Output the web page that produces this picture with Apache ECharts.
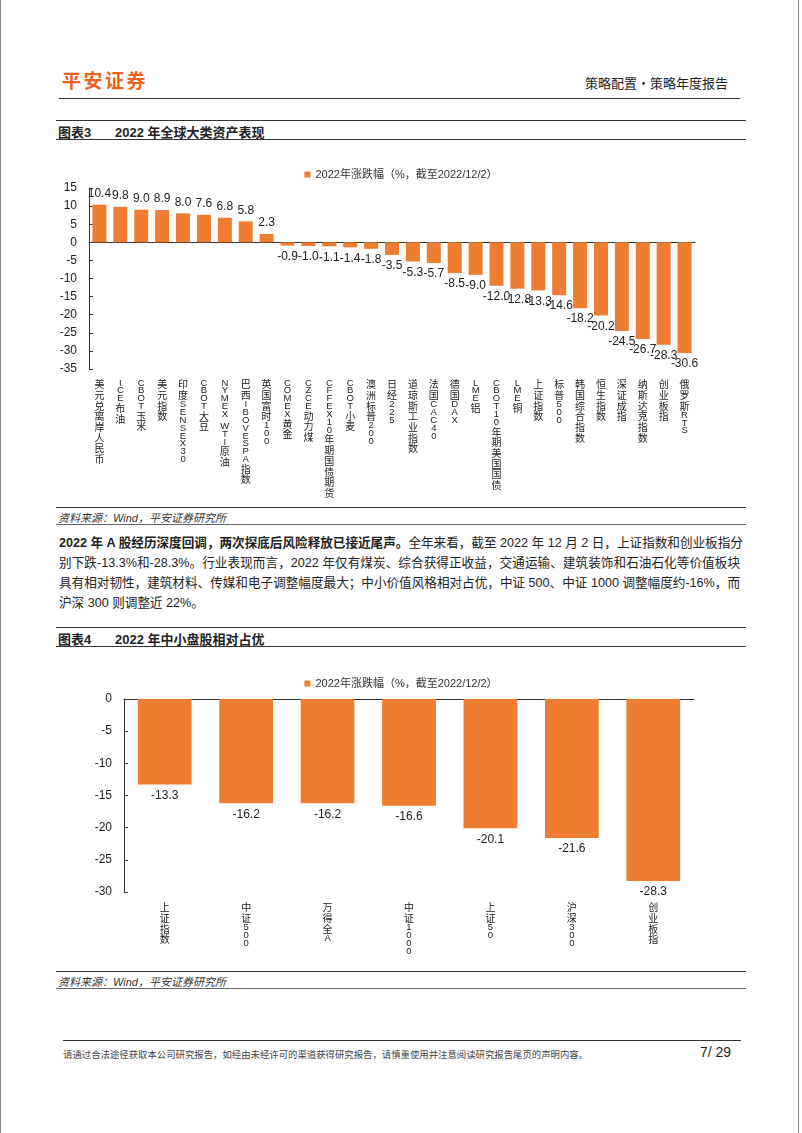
<!DOCTYPE html>
<html>
<head>
<meta charset="utf-8">
<script src="https://cdn.jsdelivr.net/npm/echarts@6/dist/echarts.min.js"></script>
<style>
  body { margin: 0; background: #fff; font-family: "Liberation Sans", Arial, "Noto Sans CJK SC", sans-serif; color: #222; }
  #page { position: relative; width: 802px; height: 1133px; overflow: hidden; }
  .abs { position: absolute; white-space: nowrap; }
  .rule { position: absolute; height: 0; border-top: 1.5px solid #333; }
  .thin { border-top: 1px solid #666; }
  .para { position: absolute; left: 59px; width: 681px; font-size: 12.6px; line-height: 20px; text-align: justify; text-align-last: justify; white-space: nowrap; }
</style>
</head>
<body>
<div id="page">
  <div class="abs" style="left:0;top:0;width:0;height:1133px;border-left:1px solid #888"></div>
  <div class="abs" style="left:798px;top:0;width:0;height:1133px;border-left:1px solid #888"></div>

  <div class="abs" style="left:62px;top:66px;font-size:19px;font-weight:bold;color:#E9621E;letter-spacing:2.5px;font-family:'Noto Sans CJK SC'">平安证券</div>
  <div class="abs" style="left:585px;top:73px;font-size:13px;font-family:'Noto Sans CJK SC'">策略配置·策略年度报告</div>
  <div class="rule" style="left:59px;top:98px;width:681px"></div>

  <div class="rule" style="left:56px;top:120px;width:690px"></div>
  <div class="abs" style="left:58px;top:122px;font-size:13px;font-weight:bold">图表3</div>
  <div class="abs" style="left:115px;top:122px;font-size:13px;font-weight:bold">2022 年全球大类资产表现</div>
  <div class="rule" style="left:56px;top:139px;width:690px"></div>

  <div id="chart1" class="abs" style="left:0;top:150px;width:802px;height:356px"></div>

  <div class="rule" style="left:56px;top:507px;width:690px"></div>
  <div class="abs" style="left:58px;top:509px;font-size:11px;font-style:italic;color:#333">资料来源：Wind，平安证券研究所</div>
  <div class="rule thin" style="left:56px;top:524px;width:690px"></div>

  <div class="para" style="top:533px"><b>2022 年 A 股经历深度回调，两次探底后风险释放已接近尾声。</b>全年来看，截至 2022 年 12 月 2 日，上证指数和创业板指分</div>
  <div class="para" style="top:553px">别下跌-13.3%和-28.3%。行业表现而言，2022 年仅有煤炭、综合获得正收益，交通运输、建筑装饰和石油石化等价值板块</div>
  <div class="para" style="top:573px">具有相对韧性，建筑材料、传媒和电子调整幅度最大；中小价值风格相对占优，中证 500、中证 1000 调整幅度约-16%，而</div>
  <div class="para" style="top:593px;text-align-last:left">沪深 300 则调整近 22%。</div>

  <div class="rule" style="left:56px;top:627px;width:690px"></div>
  <div class="abs" style="left:58px;top:629px;font-size:13px;font-weight:bold">图表4</div>
  <div class="abs" style="left:115px;top:629px;font-size:13px;font-weight:bold">2022 年中小盘股相对占优</div>
  <div class="rule" style="left:56px;top:646px;width:690px"></div>

  <div id="chart2" class="abs" style="left:0;top:650px;width:802px;height:320px"></div>

  <div class="rule" style="left:56px;top:971px;width:690px"></div>
  <div class="abs" style="left:58px;top:973px;font-size:11px;font-style:italic;color:#333">资料来源：Wind，平安证券研究所</div>
  <div class="rule thin" style="left:56px;top:988px;width:690px"></div>

  <div class="rule" style="left:63px;top:1040px;width:678px;border-top-width:1px"></div>
  <div class="abs" style="left:63px;top:1047px;font-size:9.4px;color:#444;font-family:'Noto Sans CJK SC'">请通过合法途径获取本公司研究报告，如经由未经许可的渠道获得研究报告，请慎重使用并注意阅读研究报告尾页的声明内容。</div>
  <div class="abs" style="left:700px;top:1044px;font-size:14px;color:#222">7/ 29</div>
</div>

<script>
// 图表3 数据
var assetNames = ['美元兑离岸人民币', 'ICE布油', 'CBOT玉米', '美元指数', '印度SENSEX30', 'CBOT大豆',
  'NYMEX WTI原油', '巴西IBOVESPA指数', '英国富时100', 'COMEX黄金', 'CZCE动力煤', 'CFFEX10年期国债期货',
  'CBOT小麦', '澳洲标普200', '日经225', '道琼斯工业指数', '法国CAC40', '德国DAX', 'LME铝',
  'CBOT10年期美国国债', 'LME铜', '上证指数', '标普500', '韩国综合指数', '恒生指数', '深证成指',
  '纳斯达克指数', '创业板指', '俄罗斯RTS']
var assetChange = [10.4, 9.8, 9.0, 8.9, 8.0, 7.6, 6.8, 5.8, 2.3, -0.9, -1.0, -1.1, -1.4, -1.8, -3.5,
  -5.3, -5.7, -8.5, -9.0, -12.0, -12.8, -13.3, -14.6, -18.2, -20.2, -24.5, -26.7, -28.3, -30.6]
var axis1Ticks = [-35, 15, 5]

// 图表4 数据
var indexNames = ['上证指数', '中证500', '万得全A', '中证1000', '上证50', '沪深300', '创业板指']
var indexChange = [-13.3, -16.2, -16.2, -16.6, -20.1, -21.6, -28.3]
var axis2Ticks = [-30, 0, 5]

var seriesName = '2022年涨跌幅（%，截至2022/12/2）'
var barColor = '#ED7D31'
var fontFam = '"Liberation Sans", Arial, "Noto Sans CJK SC", sans-serif'

// 竖排标签：中文正排，西文字符逐个堆叠
function vertical (s) {
  return s.split('').map(function (ch) {
    if (ch === ' ') return '{s| }'
    return /[\u0000-\u00ff]/.test(ch) ? '{l|' + ch + '}' : '{c|' + ch + '}'
  }).join('\n')
}

function barData (vals) {
  return vals.map(function (v) {
    return { value: v, label: { position: v >= 0 ? 'top' : 'bottom' } }
  })
}

function makeOption (names, vals, ticks, grid, legendTop, gap) {
  var rich = {
    c: { fontSize: 10, lineHeight: 10.7, align: 'center', fontFamily: '"Noto Sans CJK SC"', color: '#222' },
    l: { fontSize: 9.5, lineHeight: 7.9, align: 'center', fontFamily: fontFam, color: '#222' },
    s: { fontSize: 9, lineHeight: 4, align: 'center' }
  }
  return {
    animation: false,
    textStyle: { fontFamily: fontFam },
    legend: {
      top: legendTop,
      left: 'center',
      icon: 'rect',
      itemWidth: 6,
      itemHeight: 6,
      textStyle: { fontSize: 11, color: '#333', fontFamily: fontFam },
      data: [seriesName]
    },
    grid: grid,
    xAxis: [
      {
        type: 'category',
        data: names,
        axisLine: { show: false, onZero: false },
        axisTick: { show: false },
        axisLabel: {
          interval: 0,
          margin: 10,
          formatter: function (v) { return vertical(v) },
          rich: rich
        }
      },
      {
        type: 'category',
        position: 'top',
        data: names,
        axisLine: { onZero: true, lineStyle: { color: '#333', width: 1 } },
        axisTick: { interval: 2, length: 4, inside: false, lineStyle: { color: '#333' } },
        axisLabel: { show: false }
      }
    ],
    yAxis: {
      type: 'value',
      min: ticks[0],
      max: ticks[1],
      interval: ticks[2],
      axisLine: { show: true, lineStyle: { color: '#333' } },
      axisTick: { show: true, inside: true, length: 4, lineStyle: { color: '#333' } },
      axisLabel: { fontSize: 12, color: '#222', margin: 12 },
      splitLine: { show: false }
    },
    series: [
      {
        name: seriesName,
        type: 'bar',
        xAxisIndex: 0,
        barCategoryGap: gap,
        itemStyle: { color: barColor },
        label: {
          show: true,
          fontSize: 12,
          color: '#222',
          distance: 5,
          formatter: function (p) { return p.value.toFixed(1) }
        },
        data: barData(vals)
      }
    ]
  }
}

var chart1 = echarts.init(document.getElementById('chart1'))
chart1.setOption(makeOption(assetNames, assetChange, axis1Ticks,
  { left: 89, right: 107, top: 38, bottom: 137 }, 14, '33%'))

var chart2 = echarts.init(document.getElementById('chart2'))
chart2.setOption(makeOption(indexNames, indexChange, axis2Ticks,
  { left: 124, right: 108, top: 49, bottom: 78 }, 23, '34%'))
</script>
</body>
</html>
